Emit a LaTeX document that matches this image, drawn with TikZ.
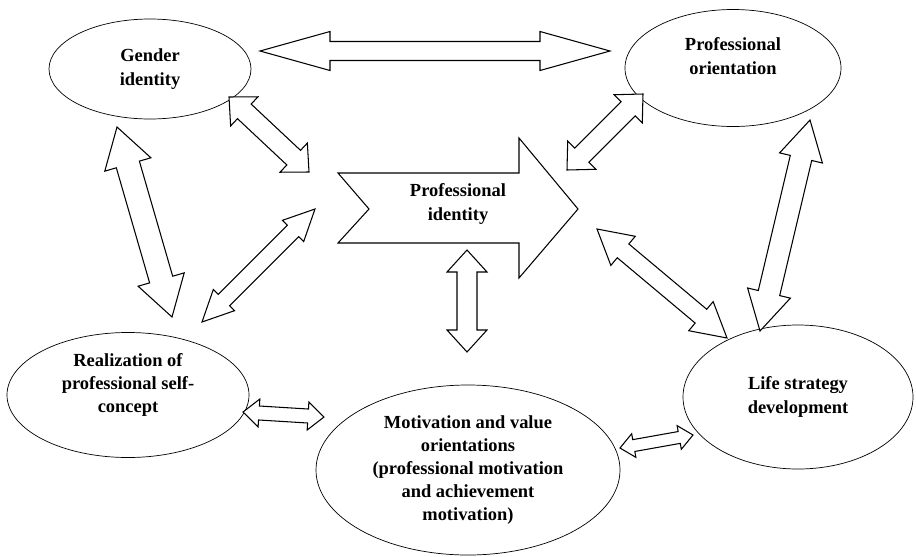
\documentclass[tikz,border=0pt]{standalone}
\usepackage{fontspec}
\setmainfont{Liberation Serif}
\usetikzlibrary{calc,shapes.geometric}
\tikzset{
  ellbox/.style = {
    draw, ellipse, inner sep=0pt, align=center,
    font=\fontsize{10.5}{13.2}\selectfont\bfseries
  },
  raised/.style = {text depth=#1},
  blockarrow/.style = {draw, line width=0.6pt, line join=miter, fill=white}
}
% hollow double block arrow between two tips:
% #1,#2 tips, #3 shaft half width, #4 head half width, #5 head length (px)
\newcommand{\twoway}[5]{%
  \draw[blockarrow] let \p1 = ($(#2)-(#1)$), \n1 = {atan2(\y1,\x1)} in
    (#1)
    -- ($(#1)+(\n1:{#5*0.2mm})+(\n1+90:{#4*0.2mm})$)
    -- ($(#1)+(\n1:{#5*0.2mm})+(\n1+90:{#3*0.2mm})$)
    -- ($(#2)+(\n1+180:{#5*0.2mm})+(\n1+90:{#3*0.2mm})$)
    -- ($(#2)+(\n1+180:{#5*0.2mm})+(\n1+90:{#4*0.2mm})$)
    -- (#2)
    -- ($(#2)+(\n1+180:{#5*0.2mm})+(\n1-90:{#4*0.2mm})$)
    -- ($(#2)+(\n1+180:{#5*0.2mm})+(\n1-90:{#3*0.2mm})$)
    -- ($(#1)+(\n1:{#5*0.2mm})+(\n1-90:{#3*0.2mm})$)
    -- ($(#1)+(\n1:{#5*0.2mm})+(\n1-90:{#4*0.2mm})$)
    -- cycle;
}

\begin{document}
\begin{tikzpicture}[x=0.2mm, y=-0.2mm]
  \useasboundingbox (0,0) rectangle (916,556);

  % the five ellipses
  \node[ellbox, minimum width=40.4mm, minimum height=20mm] (gender) at (150,69)
    {Gender\\identity};
  \node[ellbox, raised=4.8mm, minimum width=43.2mm, minimum height=23.4mm] (proforient) at (733,68)
    {Professional\\orientation};
  \node[ellbox, raised=4.8mm, minimum width=48.4mm, minimum height=25mm] (selfconcept) at (128,395)
    {Realization of\\professional self-\\concept};
  \node[ellbox, minimum width=60.8mm, minimum height=34mm] (motiv) at (468,470)
    {Motivation and value\\orientations\\(professional motivation\\and achievement\\motivation)};
  \node[ellbox, minimum width=46mm, minimum height=28.8mm] (lifestrat) at (798,397)
    {Life strategy\\development};

  % central arrow
  \draw[blockarrow] (338,173) -- (519,173) -- (519,138) -- (578,209)
    -- (519,278) -- (519,243) -- (338,243) -- (369,209) -- cycle;
  \node[font=\fontsize{10.5}{13.2}\selectfont\bfseries, align=center] (profid) at (458,204)
    {Professional\\identity};

  % arrow tips
  \coordinate (gp-a) at (260,51);  \coordinate (gp-b) at (610,51);
  \coordinate (gs-a) at (117,127); \coordinate (gs-b) at (172,317);
  \coordinate (gc-a) at (229,97);  \coordinate (gc-b) at (309,172);
  \coordinate (cs-a) at (315,209); \coordinate (cs-b) at (202,322);
  \coordinate (cp-a) at (567,170); \coordinate (cp-b) at (643,94);
  \coordinate (cl-a) at (597,229); \coordinate (cl-b) at (727,338);
  \coordinate (pl-a) at (810,120); \coordinate (pl-b) at (760,331);
  \coordinate (cm-a) at (467,250); \coordinate (cm-b) at (467,352);
  \coordinate (sm-a) at (243,412); \coordinate (sm-b) at (324,417);
  \coordinate (ml-a) at (620,448); \coordinate (ml-b) at (693,435);

  \twoway{gp-a}{gp-b}{9.5}{19.5}{70}
  \twoway{gs-a}{gs-b}{12}{24}{39}
  \twoway{gc-a}{gc-b}{10}{20}{21}
  \twoway{cs-a}{cs-b}{8}{15}{31}
  \twoway{cp-a}{cp-b}{10}{20}{21}
  \twoway{cl-a}{cl-b}{9}{19}{34}
  \twoway{pl-a}{pl-b}{11}{22}{39}
  \twoway{cm-a}{cm-b}{10}{20}{22}
  \twoway{sm-a}{sm-b}{7}{14}{16}
  \twoway{ml-a}{ml-b}{6}{12}{14}
\end{tikzpicture}
\end{document}
